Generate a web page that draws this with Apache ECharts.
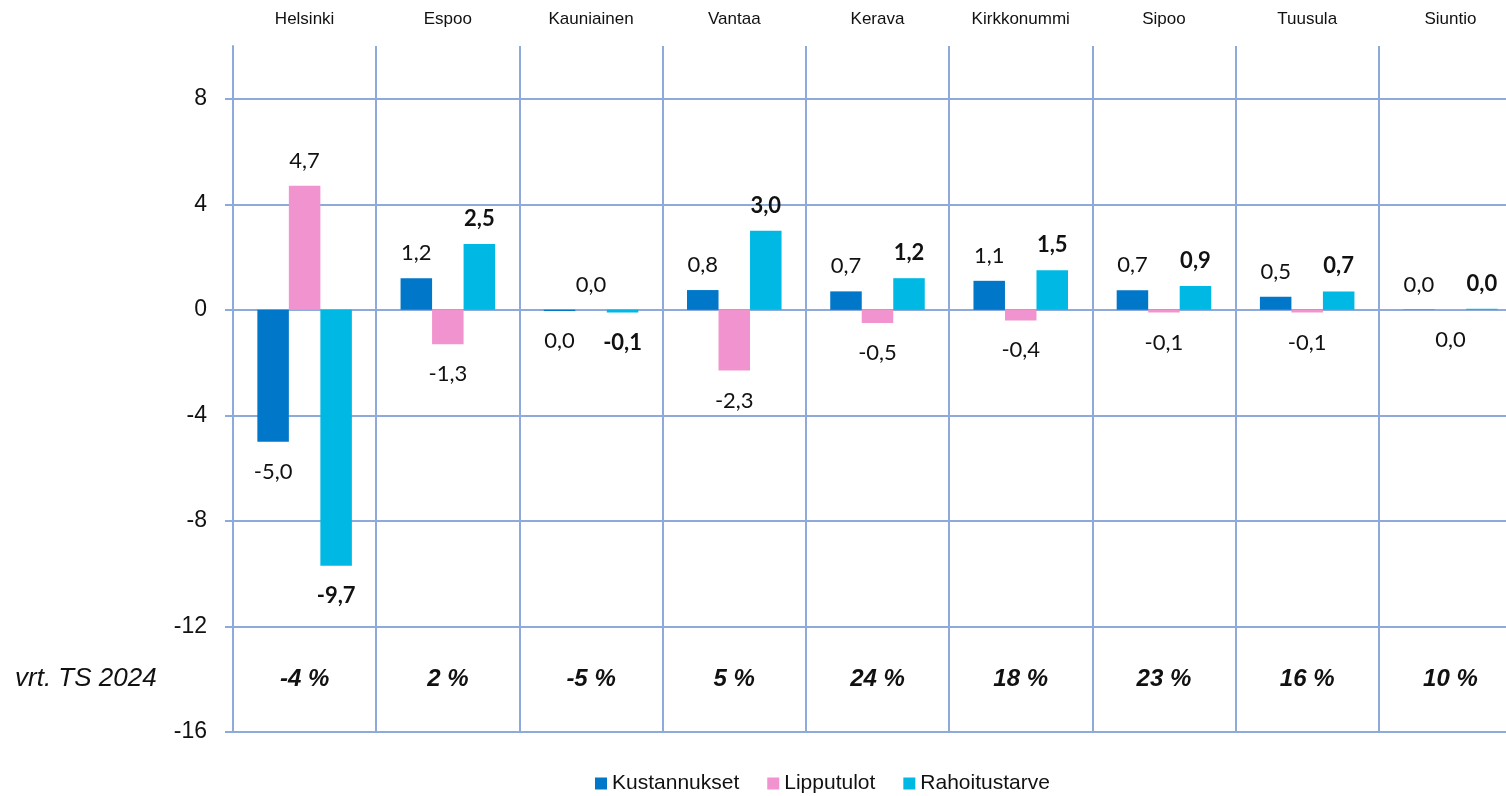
<!DOCTYPE html>
<html>
<head>
<meta charset="utf-8">
<script src="https://cdn.jsdelivr.net/npm/echarts@6/dist/echarts.min.js"></script>
<style>
  html, body { margin: 0; padding: 0; background: #ffffff; }
  #chart { width: 1506px; height: 796px; }
</style>
</head>
<body>
<div id="chart"></div>
<script>
// Municipalities along the top axis
const municipalities = ['Helsinki', 'Espoo', 'Kauniainen', 'Vantaa', 'Kerava', 'Kirkkonummi', 'Sipoo', 'Tuusula', 'Siuntio'];
// Change per municipality (M€)
const kustannukset  = [-5.0,  1.2, -0.04, 0.75, 0.7,  1.1,  0.74, 0.5,  0.01];
const lipputulot    = [ 4.7, -1.3,  0.01, -2.3, -0.5, -0.4, -0.1, -0.1, -0.01];
const rahoitustarve = [-9.7,  2.5, -0.1,  3.0,  1.2,  1.5,  0.9,  0.7,  0.04];
// Change compared with TS 2024, shown in the bottom band
const vrtTs2024 = ['-4 %', '2 %', '-5 %', '5 %', '24 %', '18 %', '23 %', '16 %', '10 %'];
// Value-axis ticks
const yTicks = [-16, -12, -8, -4, 0, 4, 8];

const GRID_COLOR = '#8eaadb';
const TEXT_COLOR = '#111111';

function fmt(v) {
  const r = Math.round(v * 10) / 10;
  return r === 0 ? '0,0' : r.toFixed(1).replace('.', ',');
}

// Labels sit outside the bar end: above positive bars, below negative ones
function items(values) {
  return values.map(v => ({
    value: v,
    label: v < 0 ? { position: 'bottom', distance: 19 } : { position: 'top', distance: 14 }
  }));
}

function barSeries(name, values, color, bold) {
  return {
    name: name,
    type: 'bar',
    data: items(values),
    barWidth: '22%',
    barGap: '0%',
    itemStyle: { color: color },
    label: {
      show: true,
      formatter: p => fmt(p.value),
      fontFamily: 'Lato',
      fontSize: 22,
      fontWeight: bold ? 'bold' : 'normal',
      color: TEXT_COLOR
    }
  };
}

const chart = echarts.init(document.getElementById('chart'), null, { renderer: 'canvas' });

chart.setOption({
  animation: false,
  backgroundColor: '#ffffff',
  grid: {
    left: 233, right: -16, top: 46, bottom: 64,
    containLabel: false,
    outerBoundsMode: 'none'
  },
  legend: {
    data: ['Kustannukset', 'Lipputulot', 'Rahoitustarve'],
    left: 590, top: 768,
    icon: 'rect',
    itemWidth: 12, itemHeight: 12, itemGap: 28,
    textStyle: { fontFamily: 'Liberation Sans', fontSize: 21, color: TEXT_COLOR }
  },
  xAxis: [
    {
      type: 'category',
      data: municipalities,
      position: 'top',
      axisLine: { show: false, onZero: false },
      axisTick: { show: false },
      axisLabel: { interval: 0, margin: 18, fontFamily: 'Liberation Sans', fontSize: 17, color: TEXT_COLOR },
      splitLine: { show: true, interval: 0, lineStyle: { color: GRID_COLOR, width: 2 } }
    },
    {
      type: 'category',
      data: vrtTs2024,
      position: 'bottom',
      axisLine: { show: false, onZero: false },
      axisTick: { show: false },
      axisLabel: {
        interval: 0, inside: true, margin: 41,
        fontFamily: 'Liberation Sans', fontSize: 24, fontStyle: 'italic', fontWeight: 'bold', color: TEXT_COLOR
      },
      splitLine: { show: false }
    }
  ],
  yAxis: {
    type: 'value',
    min: -16, max: 10, interval: 4,
    axisLine: { show: true, lineStyle: { color: GRID_COLOR, width: 2 } },
    axisTick: { show: true, length: 8, customValues: yTicks, lineStyle: { color: GRID_COLOR, width: 2 } },
    axisLabel: { customValues: yTicks, margin: 26, fontFamily: 'Liberation Sans', fontSize: 23, color: TEXT_COLOR },
    splitLine: { show: true, lineStyle: { color: GRID_COLOR, width: 2 } }
  },
  graphic: [
    {
      type: 'text',
      left: 15, top: 666,
      style: { text: 'vrt. TS 2024', font: 'italic 26px "Liberation Sans"', fill: TEXT_COLOR }
    }
  ],
  series: [
    barSeries('Kustannukset', kustannukset, '#0077c8', false),
    barSeries('Lipputulot', lipputulot, '#f093ce', false),
    barSeries('Rahoitustarve', rahoitustarve, '#00b8e4', true)
  ]
});
</script>
</body>
</html>
